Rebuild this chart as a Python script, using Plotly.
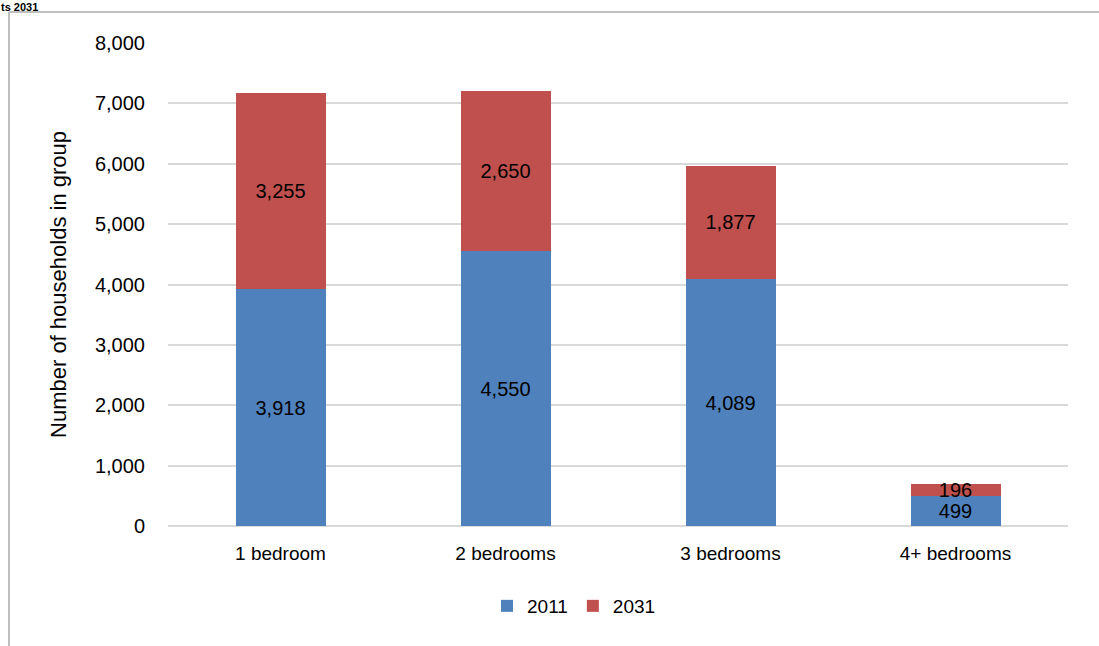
import plotly.graph_objects as go

categories = ["1 bedroom", "2 bedrooms", "3 bedrooms", "4+ bedrooms"]
values_2011 = [3918, 4550, 4089, 499]
values_2031 = [3255, 2650, 1877, 196]
series_names = ["2011", "2031"]
colors = ["#4F81BD", "#C0504D"]
tick_vals = [0, 1000, 2000, 3000, 4000, 5000, 6000, 7000, 8000]

FONT = "Liberation Sans, Arial, sans-serif"

fig = go.Figure()
for name, vals, col in zip(series_names, [values_2011, values_2031], colors):
    fig.add_trace(go.Bar(
        x=categories, y=vals, name=name,
        marker=dict(color=col, line=dict(width=0)),
        text=[f"{v:,}" for v in vals],
        textposition="inside", insidetextanchor="middle",
        constraintext="none",
        textfont=dict(family=FONT, size=20, color="#000000"),
    ))

L, R, T, B = 168, 31, 43, 120
W, H = 1099, 646
pw, ph = W - L - R, H - T - B

def px_x(p):
    return (p - L) / pw

def px_y(p):
    return (H - B - p) / ph

fig.update_layout(
    width=W, height=H,
    margin=dict(l=L, r=R, t=T, b=B, pad=0),
    barmode="stack", bargap=0.6,
    paper_bgcolor="white", plot_bgcolor="white",
    font=dict(family=FONT, size=20, color="#000000"),
    showlegend=True,
    legend=dict(orientation="h", x=px_x(574), xanchor="center",
                y=px_y(606), yanchor="middle",
                font=dict(family=FONT, size=19, color="#000000"),
                itemwidth=30, traceorder="normal"),
    xaxis=dict(showgrid=False, showline=False, ticks="", ticklabelstandoff=14,
               tickfont=dict(family=FONT, size=19, color="#000000")),
    yaxis=dict(range=[0, 8000], tickvals=tick_vals, tickformat=",",
               showgrid=True, gridcolor="#d9d9d9", gridwidth=2,
               zeroline=True, zerolinecolor="#d9d9d9", zerolinewidth=2,
               showline=False, ticks="", ticklabelstandoff=22,
               tickfont=dict(family=FONT, size=20, color="#000000"),
               title=dict(text="Number of households in group", standoff=22,
                          font=dict(family=FONT, size=22, color="#000000"))),
    shapes=[
        dict(type="line", xref="paper", yref="paper",
             x0=px_x(9), x1=px_x(9), y0=px_y(12), y1=px_y(660),
             line=dict(color="#bfbfbf", width=2)),
        dict(type="line", xref="paper", yref="paper",
             x0=px_x(9), x1=px_x(1110), y0=px_y(12), y1=px_y(12),
             line=dict(color="#bfbfbf", width=2)),
    ],
    annotations=[
        dict(text="<b>ts 2031</b>", xref="paper", yref="paper",
             x=px_x(0), xanchor="left", y=px_y(0), yanchor="top",
             showarrow=False, borderpad=0,
             font=dict(family=FONT, size=11, color="#000000")),
    ],
)

fig.write_html("out.html", config={"displayModeBar": False},
               post_script="document.body.style.margin='0';document.body.style.padding='0';")
